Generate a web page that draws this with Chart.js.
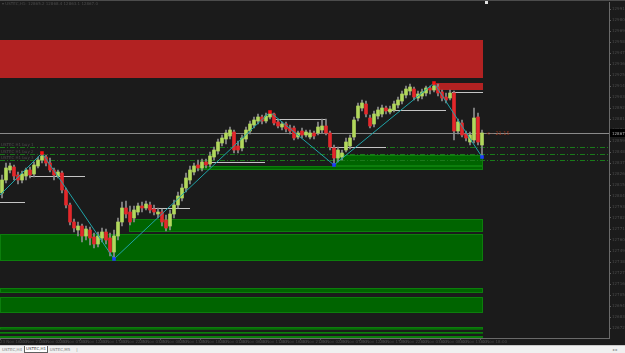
<!DOCTYPE html>
<html>
<head>
<meta charset="utf-8">
<script src="https://cdn.jsdelivr.net/npm/chart.js@4.4.0/dist/chart.umd.min.js"></script>
<style>
html, body { margin: 0; padding: 0; background: #1b1b1b; overflow: hidden; }
#chart { position: absolute; left: 0; top: 0; }
#tabs { position: absolute; left: 0; top: 345px; width: 625px; height: 8px; background: #f0f0f0;
        border-top: 1px solid #c8c8c8; box-sizing: border-box; font: 4px 'DejaVu Sans'; color: #808080; }
.tab { position: absolute; top: 0; height: 7px; line-height: 7px; width: 22px; text-align: center; }
.tab.on { background: #fff; border: 1px solid #606060; border-top: none; color: #404040; height: 6px; line-height: 6px; }
</style>
</head>
<body>
<canvas id="chart" width="625" height="345"></canvas>
<div id="tabs">
  <span class="tab" style="left:1px">USTEC,H4</span>
  <span class="tab on" style="left:24px">USTEC,H1</span>
  <span class="tab" style="left:49px">USTEC,M5</span>
  <span class="tab" style="left:66px">|</span>
  <span class="tab" style="left:604px">◂ ▸</span>
</div>
<script>
// USTEC H1 candles (price)
const openP = [12807,12820,12830,12833,12825,12820,12824,12830,12826,12834,
  12840,12843,12837,12830,12824,12827,12810,12795,12778,12770,
  12774,12764,12770,12763,12756,12762,12768,12762,12748,12764,
  12778,12792,12788,12782,12788,12794,12792,12795,12791,12786,
  12788,12780,12774,12786,12795,12802,12812,12820,12828,12835,
  12832,12838,12836,12843,12849,12857,12861,12864,12868,12854,
  12852,12861,12869,12875,12879,12883,12879,12883,12886,12878,
  12873,12876,12872,12872,12863,12869,12865,12863,12867,12867,
  12870,12874,12867,12852,12842,12843,12850,12854,12863,12882,
  12892,12896,12882,12876,12884,12886,12892,12888,12890,12895,
  12899,12905,12909,12911,12902,12904,12907,12912,12910,12913,
  12908,12903,12902,12907,12869,12877,12866,12858,12860,12883,
  12855];
const closeP = [12820,12832,12834,12824,12820,12826,12830,12825,12835,12840,
  12844,12837,12830,12825,12828,12810,12795,12778,12772,12774,
  12764,12771,12762,12756,12764,12768,12760,12748,12764,12778,
  12792,12786,12778,12790,12794,12792,12796,12790,12788,12788,
  12778,12772,12786,12795,12804,12812,12822,12830,12834,12832,
  12838,12835,12844,12850,12858,12862,12867,12870,12850,12850,
  12862,12870,12876,12880,12883,12879,12884,12886,12877,12874,
  12876,12871,12869,12862,12867,12865,12868,12867,12864,12873,
  12874,12867,12853,12842,12850,12847,12858,12862,12880,12894,
  12897,12886,12874,12886,12890,12892,12889,12891,12896,12900,
  12906,12911,12913,12903,12906,12908,12912,12910,12914,12907,
  12902,12900,12907,12869,12878,12865,12862,12865,12882,12858,
  12867];
const highP = [12825,12837,12837,12835,12828,12829,12832,12833,12838,12843,
  12847,12845,12842,12832,12830,12829,12812,12797,12781,12778,
  12776,12774,12773,12767,12768,12772,12771,12767,12770,12782,
  12798,12799,12794,12794,12797,12798,12799,12798,12795,12792,
  12791,12785,12790,12800,12808,12816,12827,12834,12837,12840,
  12841,12841,12848,12853,12861,12865,12870,12873,12870,12859,
  12865,12873,12879,12883,12886,12885,12887,12888,12887,12881,
  12878,12878,12875,12874,12869,12872,12870,12870,12869,12878,
  12881,12881,12869,12855,12853,12850,12862,12865,12883,12897,
  12900,12899,12885,12889,12893,12895,12894,12894,12899,12903,
  12909,12914,12916,12913,12909,12911,12914,12914,12917,12916,
  12910,12907,12910,12909,12881,12880,12869,12868,12892,12887,
  12870];
const lowP = [12802,12817,12827,12820,12816,12817,12820,12822,12823,12832,
  12837,12834,12828,12820,12822,12807,12792,12775,12768,12764,
  12758,12760,12755,12752,12753,12758,12756,12744,12741,12760,
  12774,12782,12775,12778,12785,12788,12790,12787,12785,12782,
  12774,12769,12770,12782,12792,12799,12808,12816,12825,12829,
  12829,12832,12833,12840,12846,12854,12856,12861,12847,12847,
  12849,12858,12866,12872,12876,12876,12877,12881,12875,12872,
  12870,12868,12866,12860,12861,12862,12863,12861,12861,12865,
  12867,12865,12850,12835,12838,12840,12848,12851,12860,12879,
  12889,12883,12872,12873,12881,12883,12886,12886,12888,12892,
  12896,12902,12905,12900,12899,12901,12904,12906,12908,12904,
  12899,12897,12900,12860,12866,12863,12859,12855,12857,12855,
  12843];

const timeLabels = ['23 Nov 16:00','23 Nov 21:00','24 Nov 02:00','24 Nov 07:00','24 Nov 12:00',
  '24 Nov 17:00','24 Nov 22:00','25 Nov 03:00','25 Nov 08:00','25 Nov 13:00','25 Nov 18:00',
  '28 Nov 01:00','28 Nov 06:00','28 Nov 11:00','28 Nov 16:00','28 Nov 21:00','29 Nov 02:00',
  '29 Nov 07:00','29 Nov 12:00','29 Nov 17:00','29 Nov 22:00','30 Nov 03:00','30 Nov 08:00',
  '30 Nov 13:00','30 Nov 18:00'];

// zigzag turning points (bar position, price)
const zzX = [0, 10.5, 28.5, 67.5, 83.5, 108.5, 120.5];
const zzY = [12805, 12847, 12741, 12888, 12835, 12917, 12843];

// supply / demand zones (bar from, bar to, upper price, lower price)
const supplyFrom = [0, 109];
const supplyTo = [120.75, 120.75];
const supplyHigh = [12960, 12917];
const supplyLow = [12922, 12910];
const demandFrom = [84, 49.25, 32.25, 0, 0, 0, 0, 0, 0];
const demandTo = [120.75, 120.75, 120.75, 120.75, 120.75, 120.75, 120.75, 120.75, 120.75];
const demandHigh = [12845, 12834, 12781, 12766, 12712, 12703, 12673, 12668, 12664];
const demandLow = [12834, 12830, 12768, 12739, 12707, 12687, 12670.5, 12666.5, 12662];

// swing levels
const levelFrom = [0, 7.25, 38, 52.25, 68.75, 82.5, 96.25, 113];
const levelTo = [6.25, 21.25, 47.5, 66.25, 81.5, 96.5, 111.5, 120.75];
const levelPrice = [12798, 12824, 12792, 12838, 12881, 12853, 12890, 12908];
const dashPrice = [12853, 12846, 12840];
const dashText = ['USTEC H1 buy 1', 'USTEC H1 buy 2', 'USTEC H1 buy 3'];

const bull = '#b2d85c';
const bear = '#e3282b';

const bars = openP.map((o, i) => i + 0.5);
const bodies = bars.map((x, i) => ({x: x, y: [openP[i], closeP[i]]}));
const wicks = bars.map((x, i) => ({x: x, y: [lowP[i], highP[i]]}));
const zigzag = zzX.map((x, i) => ({x: x, y: zzY[i]}));
const peaks = zigzag.filter((p, i) => i % 2 === 1);
const troughs = zigzag.filter((p, i) => i > 0 && i % 2 === 0);
const lastPrice = closeP[closeP.length - 1];

const terminal = {
  id: 'terminal',
  beforeDraw(chart) {
    const c = chart.ctx;
    c.save();
    c.fillStyle = '#1b1b1b';
    c.fillRect(0, 0, chart.width, chart.height);
    c.fillStyle = '#4c4c4c';
    c.fillRect(0, 0, chart.width, 1);
    c.restore();
  },
  beforeDatasetsDraw(chart) {
    const c = chart.ctx, a = chart.chartArea, x = chart.scales.x, y = chart.scales.y;
    c.save();
    c.beginPath();
    c.rect(a.left, a.top, a.right - a.left, a.bottom - a.top);
    c.clip();
    // zones
    supplyFrom.forEach((f, k) => {
      const x0 = x.getPixelForValue(f), x1 = x.getPixelForValue(supplyTo[k]);
      const y0 = y.getPixelForValue(supplyHigh[k]), y1 = y.getPixelForValue(supplyLow[k]);
      c.fillStyle = '#b22222';
      c.fillRect(x0, y0, x1 - x0, y1 - y0);
    });
    demandFrom.forEach((f, k) => {
      const x0 = x.getPixelForValue(f), x1 = x.getPixelForValue(demandTo[k]);
      const y0 = y.getPixelForValue(demandHigh[k]), y1 = y.getPixelForValue(demandLow[k]);
      c.fillStyle = '#006400';
      c.fillRect(x0, y0, x1 - x0, y1 - y0);
      c.strokeStyle = '#0c7e0c';
      c.lineWidth = 1;
      c.strokeRect(x0 + 0.5, y0 + 0.5, x1 - x0 - 1, y1 - y0 - 1);
    });
    // dashed buy lines
    c.setLineDash([5, 2, 1, 2]);
    c.strokeStyle = '#1a7a1a';
    dashPrice.forEach(p => {
      const yy = Math.round(y.getPixelForValue(p)) + 0.5;
      c.beginPath(); c.moveTo(a.left, yy); c.lineTo(a.right, yy); c.stroke();
    });
    c.setLineDash([]);
    // current price line
    const yy = Math.round(y.getPixelForValue(lastPrice)) + 0.5;
    c.strokeStyle = '#8a8a8a';
    c.beginPath(); c.moveTo(a.left, yy); c.lineTo(a.right, yy); c.stroke();
    // swing levels
    c.strokeStyle = '#c4c4c4';
    levelPrice.forEach((p, k) => {
      const ly = Math.round(y.getPixelForValue(p)) + 0.5;
      c.beginPath();
      c.moveTo(x.getPixelForValue(levelFrom[k]), ly);
      c.lineTo(x.getPixelForValue(levelTo[k]), ly);
      c.stroke();
    });
    c.restore();
  },
  afterDraw(chart) {
    const c = chart.ctx, a = chart.chartArea, x = chart.scales.x, y = chart.scales.y;
    c.save();
    c.textBaseline = 'middle';
    // title
    c.font = '4px "DejaVu Sans"';
    c.fillStyle = '#4a4a4a';
    c.fillText('▾ USTEC,H1: 12865.2 12868.4 12863.1 12867.0', 2, 4);
    // dashed line captions
    dashPrice.forEach((p, k) => {
      c.fillText(dashText[k], 1, y.getPixelForValue(p) - 2);
    });
    // distance text
    const ly = y.getPixelForValue(lastPrice);
    c.font = '5px "DejaVu Sans"';
    c.fillStyle = '#9a3418';
    c.fillText('<-- 21.15', x.getPixelForValue(121.5), ly + 1);
    // current price tag on the axis
    c.fillStyle = '#000';
    c.fillRect(a.right + 1, Math.round(ly) - 4, 16, 8);
    c.font = '4px "DejaVu Sans"';
    c.fillStyle = '#b0b0b0';
    c.fillText(lastPrice.toFixed(1), a.right + 3, ly + 0.5);
    // chart shift marker
    c.fillStyle = '#e0e0e0';
    c.fillRect(485, 1, 3, 3);
    c.restore();
  }
};

new Chart(document.getElementById('chart'), {
  type: 'bar',
  data: {
    datasets: [
      { type: 'scatter', label: 'peaks', data: peaks, pointStyle: 'rect', pointRadius: 2.5,
        backgroundColor: '#ff1010', borderWidth: 0, order: 1 },
      { type: 'scatter', label: 'troughs', data: troughs, pointStyle: 'rect', pointRadius: 2.5,
        backgroundColor: '#1c3cff', borderWidth: 0, order: 1 },
      { type: 'line', label: 'zigzag', data: zigzag, borderColor: '#1fa3a8', borderWidth: 1,
        pointRadius: 0, tension: 0, order: 2 },
      { label: 'body', data: bodies, barThickness: 3, grouped: false, minBarLength: 1, order: 3,
        backgroundColor: c => closeP[c.dataIndex] >= openP[c.dataIndex] ? bull : bear },
      { label: 'wick', data: wicks, barThickness: 1, grouped: false, order: 4,
        backgroundColor: '#8e8e8e' }
    ]
  },
  options: {
    animation: false,
    responsive: false,
    devicePixelRatio: 1,
    layout: { autoPadding: false, padding: { top: 2, left: 0, right: 0, bottom: 0 } },
    plugins: { legend: { display: false }, tooltip: { enabled: false } },
    scales: {
      x: {
        type: 'linear', min: 0, max: 152.25, offset: false,
        grid: { drawOnChartArea: false, tickLength: 2, offset: false,
                color: c => (c.tick && c.tick.value <= 120 ? '#5a5a5a' : 'transparent') },
        border: { color: '#6a6a6a' },
        ticks: { stepSize: 5, autoSkip: false, maxRotation: 0, align: 'start', padding: 0,
                 includeBounds: false, font: { size: 4, family: 'DejaVu Sans' }, color: '#4a4a4a',
                 callback: v => timeLabels[Math.round(v / 5)] || '' },
        afterFit(s) { s.height = 7; s.paddingLeft = 0; s.paddingRight = 0; }
      },
      y: {
        position: 'right', min: 12662, max: 12998,
        grid: { drawOnChartArea: false, tickLength: 2, color: '#5a5a5a' },
        border: { color: '#6a6a6a' },
        ticks: { stepSize: 11, padding: 1, includeBounds: false,
                 font: { size: 4, family: 'DejaVu Sans' }, color: '#4a4a4a',
                 callback: v => v.toFixed(1) },
        afterFit(s) { s.width = 16; s.paddingTop = 0; s.paddingBottom = 0; }
      }
    }
  },
  plugins: [terminal]
});
</script>
</body>
</html>
